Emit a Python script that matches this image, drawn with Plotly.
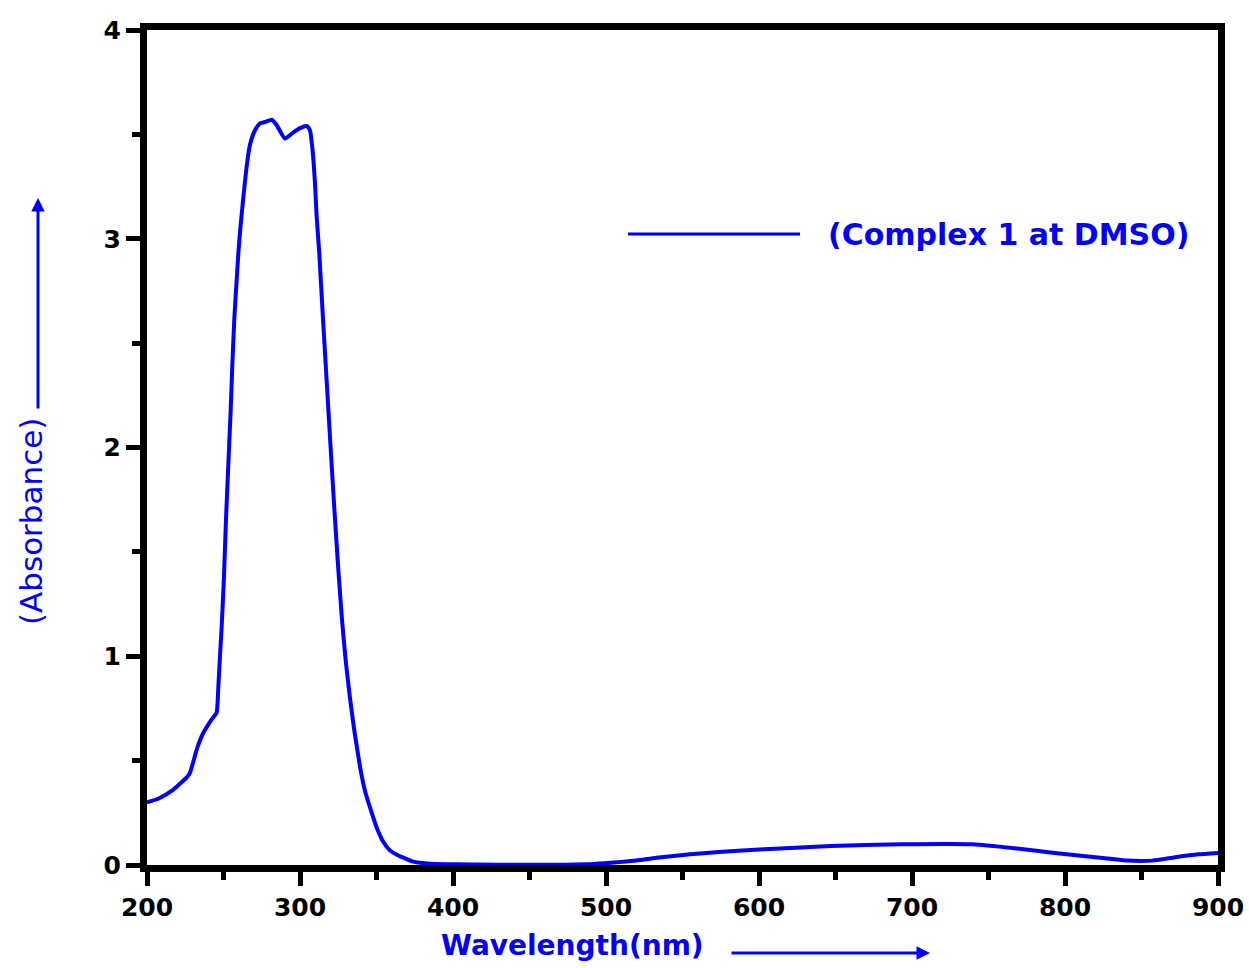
import plotly.graph_objects as go

# Absorbance spectrum of Complex 1 in DMSO
wavelength = [200, 208, 217, 226, 228, 233, 236.6, 242.5, 245.5, 246.6, 247.7, 248.8, 250.3,
              251.6, 253.1, 254.7, 255.8, 257.1, 258.6, 259.7, 261, 263, 265.2, 267.3, 270.6,
              273.9, 277.5, 281.5, 284.7, 290.2, 295.7, 300, 304.4, 306.5, 308.2, 309.8,
              310.9, 312.6, 315, 317.5, 320, 322.5, 325, 327.5, 330, 332.5, 335,
              337.5, 340, 342.5, 345.8, 350.1, 354.5, 358.8, 363, 367.5, 374, 385, 400, 430,
              460, 487, 499, 518, 533, 555, 576, 607, 647, 693, 739, 757, 780, 801, 823,
              841, 857, 872, 887, 900]
absorbance = [0.30, 0.32, 0.36, 0.42, 0.44, 0.565, 0.63, 0.70, 0.73, 0.85, 1.00, 1.14, 1.38,
              1.65, 1.91, 2.18, 2.40, 2.62, 2.80, 2.93, 3.05, 3.20, 3.35, 3.45, 3.52,
              3.553, 3.56, 3.57, 3.545, 3.48, 3.51, 3.53, 3.54, 3.52, 3.425, 3.265,
              3.105, 2.93, 2.62, 2.31, 2.00, 1.70, 1.42, 1.17, 0.97, 0.81, 0.67,
              0.55, 0.44, 0.355, 0.275, 0.18, 0.11, 0.07, 0.05, 0.035, 0.016, 0.006, 0.003, 0.001,
              0.001, 0.003, 0.008, 0.02, 0.035, 0.051, 0.064, 0.077, 0.091, 0.099, 0.099,
              0.088, 0.069, 0.051, 0.035, 0.021, 0.021, 0.037, 0.051, 0.058]

series_name = "(Complex 1 at DMSO)"
x_title = "Wavelength(nm)"
y_title = "(Absorbance)"

BLUE = "#0000FF"
TICKFONT = dict(family="DejaVu Sans", size=25, color="black", weight="bold")

fig = go.Figure()
fig.add_trace(go.Scatter(x=wavelength, y=absorbance, mode="lines",
                         line=dict(color=BLUE, width=4, shape="spline", smoothing=0.5),
                         name=series_name, showlegend=False))

axis_common = dict(showline=True, linewidth=7, linecolor="black", mirror=True,
                   ticks="outside", tickwidth=5, ticklen=14, tickcolor="black",
                   showgrid=False, zeroline=False, tickfont=TICKFONT, automargin=False)

fig.update_xaxes(range=[200, 900], dtick=100, tick0=200,
                 minor=dict(ticks="outside", dtick=50, ticklen=8, tickwidth=5, tickcolor="black"),
                 **axis_common)
fig.update_yaxes(range=[0, 4], dtick=1, tick0=0,
                 minor=dict(ticks="outside", dtick=0.5, ticklen=8, tickwidth=5, tickcolor="black"),
                 **axis_common)

L, R, T, B = 147, 31, 30, 103
W, H = 1249, 968
pw, ph = W - L - R, H - T - B

def px(xp):
    return (xp - L) / pw

def py(yp):
    return (H - B - yp) / ph

# Legend sample line and text
fig.add_shape(type="line", xref="paper", yref="paper",
              x0=px(628), x1=px(800), y0=py(234), y1=py(234),
              line=dict(color=BLUE, width=3))
fig.add_annotation(xref="paper", yref="paper", x=px(826), y=py(234), text=series_name,
                   showarrow=False, xanchor="left", yanchor="middle",
                   font=dict(family="DejaVu Sans", size=30, color=BLUE, weight="bold"))

# Axis titles as annotations with arrows
fig.add_annotation(xref="paper", yref="paper", x=px(572), y=py(945), text=x_title,
                   showarrow=False, xanchor="center", yanchor="middle",
                   font=dict(family="DejaVu Sans", size=28, color=BLUE, weight="bold"))
fig.add_annotation(xref="paper", yref="paper", x=px(930), y=py(953), text="",
                   showarrow=True, ax=-200, ay=0, arrowhead=2, arrowsize=0.9,
                   arrowwidth=3, arrowcolor=BLUE)
fig.add_annotation(xref="paper", yref="paper", x=px(31), y=py(522), text=y_title,
                   showarrow=False, textangle=-90, xanchor="center", yanchor="middle",
                   font=dict(family="DejaVu Sans", size=31, color=BLUE))
fig.add_annotation(xref="paper", yref="paper", x=px(38), y=py(198), text="",
                   showarrow=True, ax=0, ay=212, arrowhead=2, arrowsize=0.9,
                   arrowwidth=3, arrowcolor=BLUE)

fig.update_layout(width=W, height=H, margin=dict(l=L, r=R, t=T, b=B, autoexpand=False),
                  plot_bgcolor="white", paper_bgcolor="white", showlegend=False)

fig.write_html("out.html")
